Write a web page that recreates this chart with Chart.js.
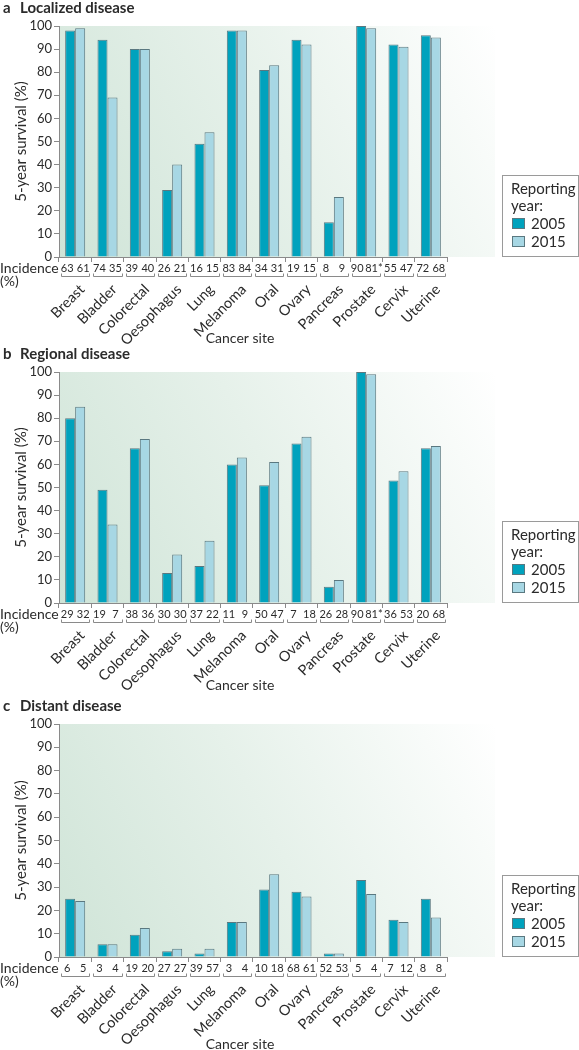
<!DOCTYPE html>
<html>
<head>
<meta charset="utf-8">
<script src="https://cdn.jsdelivr.net/npm/chart.js@4.4.0/dist/chart.umd.min.js"></script>
<style>
  body { margin: 0; background: #fff; width: 579px; height: 1050px; position: relative; overflow: hidden; }
  .panel { position: absolute; left: 0; width: 579px; }
</style>
</head>
<body>
<div class="panel" style="top:0"><canvas id="chartA" width="579" height="350"></canvas></div>
<div class="panel" style="top:346px"><canvas id="chartB" width="579" height="350"></canvas></div>
<div class="panel" style="top:698px"><canvas id="chartC" width="579" height="352"></canvas></div>
<script>
// categories + tick labels
const cancerSites = ['Breast', 'Bladder', 'Colorectal', 'Oesophagus', 'Lung', 'Melanoma', 'Oral', 'Ovary', 'Pancreas', 'Prostate', 'Cervix', 'Uterine'];
const reportingYears = ['2005', '2015'];
const survivalTicks = [0, 10, 20, 30, 40, 50, 60, 70, 80, 90, 100];

// a - localized disease
const localized2005 = [98, 94, 90, 29, 49, 98, 81, 94, 15, 100, 92, 96];
const localized2015 = [99, 69, 90, 40, 54, 98, 83, 92, 26, 99, 91, 95];
const localizedInc2005 = ['63', '74', '39', '26', '16', '83', '34', '19', '8', '90', '55', '72'];
const localizedInc2015 = ['61', '35', '40', '21', '15', '84', '31', '15', '9', '81*', '47', '68'];

// b - regional disease
const regional2005 = [80, 49, 67, 13, 16, 60, 51, 69, 7, 100, 53, 67];
const regional2015 = [85, 34, 71, 21, 27, 63, 61, 72, 10, 99, 57, 68];
const regionalInc2005 = ['29', '19', '38', '30', '37', '11', '50', '7', '26', '90', '36', '20'];
const regionalInc2015 = ['32', '7', '36', '30', '22', '9', '47', '18', '28', '81*', '53', '68'];

// c - distant disease
const distant2005 = [25, 5.5, 9.5, 2.5, 1.5, 15, 29, 28, 1.5, 33, 16, 25];
const distant2015 = [24, 5.5, 12.5, 3.5, 3.5, 15, 35.5, 26, 1.5, 27, 15, 17];
const distantInc2005 = ['6', '3', '19', '27', '39', '3', '10', '68', '52', '5', '7', '8'];
const distantInc2015 = ['5', '4', '20', '27', '57', '4', '18', '61', '53', '4', '12', '8'];

const color2005 = '#00a2bd';
const color2015 = '#a7d7e4';
const barEdge = '#5a7880';
const axisGray = '#8a8a8a';
const textColor = '#2b2b2b';
const fontFamily = 'Lato, "Noto Sans", sans-serif';

// background wash, titles, incidence row, rotated labels, legend box
const panelDecor = {
  id: 'panelDecor',
  beforeDraw(chart, args, opts) {
    const { ctx, chartArea: a } = chart;
    const right = 495;
    const g = ctx.createLinearGradient(a.left, a.bottom, right, a.top);
    g.addColorStop(0, '#cfe4d7');
    g.addColorStop(0.5, '#e6f1ea');
    g.addColorStop(1, '#ffffff');
    ctx.save();
    ctx.fillStyle = g;
    ctx.fillRect(a.left, a.top, right - a.left, a.bottom - a.top);
    ctx.restore();
  },
  afterDraw(chart, args, opts) {
    const { ctx, chartArea: a } = chart;
    const xs = chart.scales.x;
    ctx.save();
    ctx.fillStyle = textColor;

    // panel title
    ctx.textBaseline = 'middle';
    ctx.textAlign = 'left';
    ctx.font = 'bold 15px ' + fontFamily;
    ctx.fillText(opts.letter, 3, 8);
    ctx.fillText(opts.title, 20, 8);

    // y title
    ctx.font = '15px ' + fontFamily;
    ctx.save();
    ctx.translate(21, (a.top + a.bottom) / 2);
    ctx.rotate(-Math.PI / 2);
    ctx.textAlign = 'center';
    ctx.fillText('5-year survival (%)', 0, 0);
    ctx.restore();

    // incidence row
    ctx.textAlign = 'left';
    ctx.font = '14px ' + fontFamily;
    ctx.fillText('Incidence', 0, a.bottom + 11);
    ctx.fillText('(%)', 0, a.bottom + 24);

    const step = xs.width / cancerSites.length;
    ctx.font = '11px ' + fontFamily;
    ctx.strokeStyle = axisGray;
    ctx.lineWidth = 1;
    cancerSites.forEach((site, i) => {
      const x = xs.getPixelForValue(i);
      const starred = opts.inc2015[i].endsWith('*');
      ctx.textAlign = 'center';
      ctx.fillText(opts.inc2005[i], x - (starred ? 9 : 8), a.bottom + 11);
      if (starred) {
        ctx.textAlign = 'left';
        ctx.fillText(opts.inc2015[i], x - 1, a.bottom + 11);
      } else {
        ctx.fillText(opts.inc2015[i], x + 8, a.bottom + 11);
      }
      const l = Math.round(x - step / 2 + 2) + 0.5;
      const r = Math.round(x + step / 2 - 2) + 0.5;
      const y = a.bottom + 19.5;
      ctx.beginPath();
      ctx.moveTo(l, y - 3);
      ctx.lineTo(l, y);
      ctx.lineTo(r, y);
      ctx.lineTo(r, y - 3);
      ctx.stroke();
    });

    // rotated site labels
    ctx.font = '14.5px ' + fontFamily;
    ctx.textAlign = 'right';
    ctx.textBaseline = 'middle';
    cancerSites.forEach((site, i) => {
      const x = xs.getPixelForValue(i);
      ctx.save();
      ctx.translate(x + 7, a.bottom + 30);
      ctx.rotate(-Math.PI / 4);
      ctx.fillText(site, 0, 0);
      ctx.restore();
    });

    ctx.textAlign = 'center';
    ctx.font = '14px ' + fontFamily;
    ctx.fillText('Cancer site', 240, a.bottom + opts.siteDy);

    // legend
    const bx = 502.5, bw = 76, bh = 81;
    const by = a.bottom - bh - 0.5;
    ctx.strokeStyle = '#9a9a9a';
    ctx.strokeRect(bx, by, bw, bh);
    ctx.textAlign = 'left';
    ctx.font = '15px ' + fontFamily;
    ctx.fillText('Reporting', 511, by + 14);
    ctx.fillText('year:', 511, by + 31);
    [color2005, color2015].forEach((c, k) => {
      const yy = by + 48 + k * 18;
      ctx.fillStyle = c;
      ctx.fillRect(512, yy - 5.5, 13, 11);
      ctx.strokeStyle = barEdge;
      ctx.strokeRect(512.5, yy - 5, 12, 10);
      ctx.fillStyle = textColor;
      ctx.fillText(reportingYears[k], 531, yy + 1);
    });
    ctx.restore();
  }
};

function makePanel(id, letter, title, v2005, v2015, inc2005, inc2015, siteDy) {
  return new Chart(document.getElementById(id), {
    type: 'bar',
    data: {
      labels: cancerSites,
      datasets: [{
        label: reportingYears[0],
        data: v2005,
        backgroundColor: color2005,
        borderColor: barEdge,
        borderWidth: 1
      }, {
        label: reportingYears[1],
        data: v2015,
        backgroundColor: color2015,
        borderColor: barEdge,
        borderWidth: 1
      }]
    },
    options: {
      responsive: false,
      animation: false,
      devicePixelRatio: 1,
      layout: { padding: { top: 26, right: 132, left: 0, bottom: 0 } },
      datasets: { bar: { barPercentage: 1, categoryPercentage: 0.62 } },
      plugins: {
        legend: { display: false },
        tooltip: { enabled: false },
        panelDecor: { letter, title, inc2005, inc2015, siteDy }
      },
      scales: {
        x: {
          afterFit: s => { s.height = 93; },
          ticks: { display: false },
          grid: { drawOnChartArea: false, tickLength: 5, color: axisGray, offset: true },
          border: { color: axisGray }
        },
        y: {
          min: 0,
          max: 100,
          afterBuildTicks: s => { s.ticks = survivalTicks.map(v => ({ value: v })); },
          afterFit: s => { s.width = 59; },
          ticks: { font: { family: fontFamily, size: 13 }, color: textColor, padding: 2 },
          grid: { drawOnChartArea: false, tickLength: 5, color: axisGray },
          border: { color: axisGray }
        }
      }
    },
    plugins: [panelDecor]
  });
}

makePanel('chartA', 'a', 'Localized disease', localized2005, localized2015, localizedInc2005, localizedInc2015, 81);
makePanel('chartB', 'b', 'Regional disease', regional2005, regional2015, regionalInc2005, regionalInc2015, 82);
makePanel('chartC', 'c', 'Distant disease', distant2005, distant2015, distantInc2005, distantInc2015, 87);
</script>
</body>
</html>
